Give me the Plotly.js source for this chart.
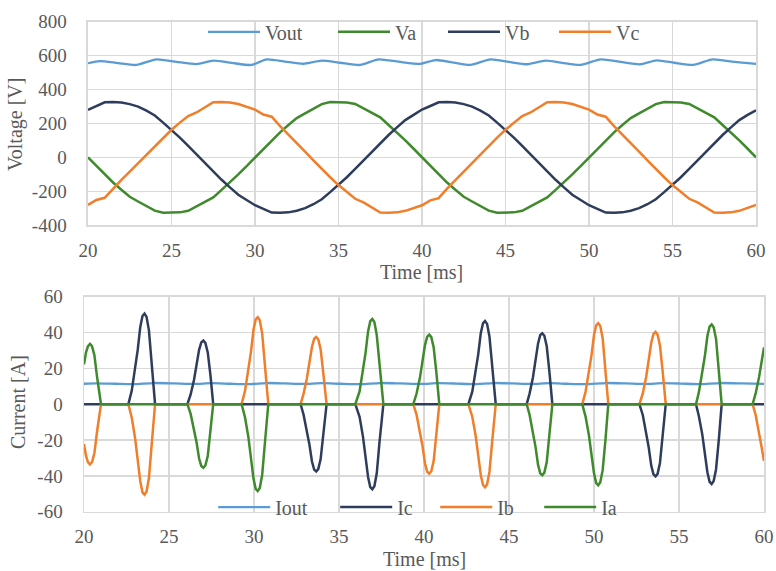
<!DOCTYPE html>
<html>
<head>
<meta charset="utf-8">
<script src="https://cdn.plot.ly/plotly-3.0.1.min.js"></script>
<style>html,body{margin:0;padding:0;background:#fff}#chart{width:776px;height:571px}</style>
</head>
<body>
<div id="chart"></div>
<script>
// ---------- Voltage panel (time in ms) ----------
var tV = [20,20.5,21,21.5,22,22.5,23,23.5,24,24.5,25,25.5,26,26.5,27,27.5,28,28.5,29,29.5,
  30,30.5,31,31.5,32,32.5,33,33.5,34,34.5,35,35.5,36,36.5,37,37.5,38,38.5,39,39.5,
  40,40.5,41,41.5,42,42.5,43,43.5,44,44.5,45,45.5,46,46.5,47,47.5,48,48.5,49,49.5,
  50,50.5,51,51.5,52,52.5,53,53.5,54,54.5,55,55.5,56,56.5,57,57.5,58,58.5,59,59.5,60];
var Va = [0,-51,-100,-148,-191,-232,-260,-288,-314,-326,-326,-324,-315,-290,-263,-236,-191,-148,-100,-51,
  0,51,100,148,191,232,260,288,314,326,326,324,315,290,263,236,191,148,100,51,
  0,-51,-100,-148,-191,-232,-260,-288,-314,-326,-326,-324,-315,-290,-263,-236,-191,-148,-100,-51,
  0,51,100,148,191,232,260,288,314,326,326,324,315,290,263,236,191,148,100,51,0];
var Vb = [280,303,325,326,324,314,299,276,247,205,163,117,68,17,-34,-84,-132,-177,-220,-251,
  -282,-303,-325,-326,-324,-314,-299,-276,-247,-205,-163,-117,-68,-17,34,84,132,177,220,251,
  282,303,325,326,324,314,299,276,247,205,163,117,68,17,-34,-84,-132,-177,-220,-251,
  -282,-303,-325,-326,-324,-314,-299,-276,-247,-205,-163,-117,-68,-17,34,84,132,177,220,251,278];
var Vc = [-280,-251,-238,-184,-132,-84,-34,17,68,117,163,205,244,265,297,325,326,324,315,297,
  282,253,240,184,132,84,34,-17,-68,-117,-163,-205,-244,-265,-297,-325,-326,-324,-315,-297,
  -282,-253,-240,-184,-132,-84,-34,17,68,117,163,205,244,265,297,325,326,324,315,297,
  282,253,240,184,132,84,34,-17,-68,-117,-163,-205,-244,-265,-297,-325,-326,-324,-315,-297,-280];
var tRipple = [20,20.7,21.8,22.9,24.1,25.3,26.5,27.5,28.6,29.8,30.7,31.8,32.9,34.0,35.1,36.3,37.4,38.6,39.9,
  40.8,41.9,42.9,44.1,45.2,46.3,47.4,48.4,49.5,50.7,51.9,53.05,54.05,55.1,56.25,57.4,58.7,60];
var Vout = [555,568,556,545,578,563,550,570,557,545,578,565,552,570,558,545,578,564,551,
  574,559,545,578,563,549,570,557,545,578,563,549,572,558,545,578,563,551];

// ---------- Current panel ----------
var Iout = [11.4,11.6,11.4,11.2,11.8,11.6,11.3,11.7,11.4,11.2,11.8,11.6,11.3,11.7,11.4,11.2,11.8,11.6,11.3,
  11.7,11.5,11.2,11.8,11.6,11.3,11.7,11.4,11.2,11.8,11.6,11.3,11.7,11.5,11.2,11.8,11.6,11.3];
var tI = [20.00,20.12,20.23,20.35,20.47,20.61,20.77,21.00,
  22.61,22.81,23.01,23.16,23.31,23.44,23.56,23.68,23.82,23.98,24.18,
  26.08,26.27,26.47,26.62,26.77,26.90,27.02,27.14,27.28,27.44,27.60,
  29.27,29.47,29.67,29.82,29.97,30.10,30.22,30.34,30.48,30.64,30.84,
  32.74,32.91,33.11,33.26,33.41,33.54,33.66,33.78,33.92,34.08,34.27,
  35.96,36.21,36.41,36.56,36.71,36.84,36.96,37.08,37.22,37.38,37.61,
  39.37,39.56,39.76,39.91,40.06,40.19,40.31,40.43,40.57,40.73,40.90,
  42.61,42.84,43.04,43.19,43.34,43.47,43.59,43.71,43.85,44.01,44.22,
  46.04,46.21,46.41,46.56,46.71,46.84,46.96,47.08,47.22,47.38,47.55,
  49.31,49.50,49.70,49.85,50.00,50.13,50.25,50.37,50.51,50.67,50.84,
  52.67,52.87,53.07,53.22,53.37,53.50,53.62,53.74,53.88,54.04,54.22,
  56.00,56.17,56.37,56.52,56.67,56.80,56.92,57.04,57.18,57.34,57.51,
  59.33,59.51,59.71,59.86,60.00];
var Ia = [22.2,28.9,32.3,33.6,32.4,27.4,15.1,0,
  0,0,0,0,0,0,0,0,0,0,0,
  0,-5.3,-13.5,-21.3,-30.3,-34.5,-35.5,-34.2,-28.9,-16.0,0,
  0,-7.3,-18.4,-29.1,-41.5,-47.3,-48.5,-46.8,-39.5,-21.8,0,
  0,0,0,0,0,0,0,0,0,0,0,
  0,7.1,18.1,28.5,40.6,46.3,47.5,45.8,38.7,21.4,0,
  0,5.8,14.7,23.3,33.1,37.7,38.8,37.4,31.6,17.5,0,
  0,0,0,0,0,0,0,0,0,0,0,
  0,-5.9,-15.0,-23.8,-33.9,-38.6,-39.6,-38.2,-32.3,-17.8,0,
  0,-6.8,-17.2,-27.1,-38.6,-44.0,-45.2,-43.6,-36.8,-20.3,0,
  0,0,0,0,0,0,0,0,0,0,0,
  0,6.7,16.9,26.7,38.0,43.3,44.5,42.9,36.3,20.0,0,
  0,6.0,15.2,24.0,31.7];
var Ib = [-22.2,-28.9,-32.3,-33.6,-32.4,-27.4,-15.1,0,
  0,-7.6,-19.2,-30.3,-43.1,-49.2,-50.5,-48.7,-41.2,-22.7,0,
  0,0,0,0,0,0,0,0,0,0,0,
  0,7.3,18.4,29.1,41.5,47.3,48.5,46.8,39.5,21.8,0,
  0,5.6,14.3,22.5,32.0,36.5,37.5,36.2,30.6,16.9,0,
  0,0,0,0,0,0,0,0,0,0,0,
  0,-5.8,-14.7,-23.3,-33.1,-37.7,-38.8,-37.4,-31.6,-17.5,0,
  0,-7.0,-17.6,-27.8,-39.6,-45.1,-46.4,-44.8,-37.8,-20.9,0,
  0,0,0,0,0,0,0,0,0,0,0,
  0,6.8,17.2,27.1,38.6,44.0,45.2,43.6,36.8,20.3,0,
  0,6.0,15.3,24.2,34.4,39.2,40.3,38.9,32.8,18.1,0,
  0,0,0,0,0,0,0,0,0,0,0,
  0,-6.0,-15.2,-24.0,-31.7];
var Ic = [0,0,0,0,0,0,0,0,
  0,7.6,19.2,30.3,43.1,49.2,50.5,48.7,41.2,22.7,0,
  0,5.3,13.5,21.3,30.3,34.5,35.5,34.2,28.9,16.0,0,
  0,0,0,0,0,0,0,0,0,0,0,
  0,-5.6,-14.3,-22.5,-32.0,-36.5,-37.5,-36.2,-30.6,-16.9,0,
  0,-7.1,-18.1,-28.5,-40.6,-46.3,-47.5,-45.8,-38.7,-21.4,0,
  0,0,0,0,0,0,0,0,0,0,0,
  0,7.0,17.6,27.8,39.6,45.1,46.4,44.8,37.8,20.9,0,
  0,5.9,15.0,23.8,33.9,38.6,39.6,38.2,32.3,17.8,0,
  0,0,0,0,0,0,0,0,0,0,0,
  0,-6.0,-15.3,-24.2,-34.4,-39.2,-40.3,-38.9,-32.8,-18.1,0,
  0,-6.7,-16.9,-26.7,-38.0,-43.3,-44.5,-42.9,-36.3,-20.0,0,
  0,0,0,0,0];

// tick labels and axis titles
var xTicks = [20,25,30,35,40,45,50,55,60];
var xTickText = ['20','25','30','35','40','45','50','55','60'];
var vTicks = [-400,-200,0,200,400,600,800];
var vTickText = ['-400','-200','0','200','400','600','800'];
var iTicks = [-60,-40,-20,0,20,40,60];
var iTickText = ['-60','-40','-20','0','20','40','60'];
var timeTitle = 'Time [ms]', voltTitle = 'Voltage [V]', currTitle = 'Current [A]';

var C_BLUE = '#5B9BD5', C_GREEN = '#3F8A2C', C_NAVY = '#2F3D5C', C_ORANGE = '#F07E2A';
var FONT = 'Liberation Serif, Times New Roman, serif';
var GRAY = '#595959', GRID = '#D9D9D9';
var titleFont = {family: FONT, size: 20, color: GRAY};

var traces = [
  {x: tRipple, y: Vout, name: 'Vout', mode: 'lines', line: {color: C_BLUE, width: 2.3, shape: 'spline', smoothing: 0.6}, xaxis: 'x', yaxis: 'y', legend: 'legend', legendwidth: 63},
  {x: tV, y: Va, name: 'Va', mode: 'lines', line: {color: C_GREEN, width: 2.5}, xaxis: 'x', yaxis: 'y', legend: 'legend', legendwidth: 43},
  {x: tV, y: Vb, name: 'Vb', mode: 'lines', line: {color: C_NAVY, width: 2.5}, xaxis: 'x', yaxis: 'y', legend: 'legend', legendwidth: 44},
  {x: tV, y: Vc, name: 'Vc', mode: 'lines', line: {color: C_ORANGE, width: 2.5}, xaxis: 'x', yaxis: 'y', legend: 'legend', legendwidth: 30},
  {x: tRipple, y: Iout, name: 'Iout', mode: 'lines', line: {color: C_BLUE, width: 2.3, shape: 'spline', smoothing: 0.6}, xaxis: 'x2', yaxis: 'y2', legend: 'legend2', legendwidth: 55},
  {x: tI, y: Ic, name: 'Ic', mode: 'lines', line: {color: C_NAVY, width: 2.5}, xaxis: 'x2', yaxis: 'y2', legend: 'legend2', legendwidth: 33},
  {x: tI, y: Ib, name: 'Ib', mode: 'lines', line: {color: C_ORANGE, width: 2.5}, xaxis: 'x2', yaxis: 'y2', legend: 'legend2', legendwidth: 37},
  {x: tI, y: Ia, name: 'Ia', mode: 'lines', line: {color: C_GREEN, width: 2.5}, xaxis: 'x2', yaxis: 'y2', legend: 'legend2', legendwidth: 20}
];

function axisBase(extra) {
  var a = {showgrid: true, gridcolor: GRID, gridwidth: 1.5, showline: true, linecolor: GRID, linewidth: 1.5, mirror: true,
    zeroline: false, ticks: '', tickfont: {family: FONT, size: 19, color: GRAY}, automargin: false, fixedrange: true};
  for (var k in extra) a[k] = extra[k];
  return a;
}

var layout = {
  width: 776, height: 571,
  margin: {l: 84, r: 12, t: 12, b: 59},
  paper_bgcolor: '#fff', plot_bgcolor: '#fff',
  font: {family: FONT, color: GRAY},
  showlegend: true,
  xaxis: axisBase({domain: [0.00588, 0.98824], range: [20, 60], anchor: 'y', tickvals: xTicks, ticktext: xTickText, ticklabelstandoff: 7}),
  yaxis: axisBase({domain: [0.584, 0.9986], range: [-400, 800], anchor: 'x', tickvals: vTicks, ticktext: vTickText, ticklabelstandoff: 16}),
  xaxis2: axisBase({domain: [0, 1], range: [20, 60], anchor: 'y2', tickvals: xTicks, ticktext: xTickText, ticklabelstandoff: 7}),
  yaxis2: axisBase({domain: [0.0006, 0.4386], range: [-60, 60], anchor: 'x2', tickvals: iTicks, ticktext: iTickText, ticklabelstandoff: 16}),
  annotations: [
    {text: timeTitle, xref: 'paper', yref: 'paper', x: 0.497, y: 0.489, xanchor: 'center', yanchor: 'middle', showarrow: false, font: titleFont},
    {text: timeTitle, xref: 'paper', yref: 'paper', x: 0.5, y: -0.095, xanchor: 'center', yanchor: 'middle', showarrow: false, font: titleFont},
    {text: voltTitle, xref: 'paper', yref: 'paper', x: -0.1015, y: 0.79, xanchor: 'center', yanchor: 'middle', textangle: -90, showarrow: false, font: titleFont},
    {text: currTitle, xref: 'paper', yref: 'paper', x: -0.097, y: 0.224, xanchor: 'center', yanchor: 'middle', textangle: -90, showarrow: false, font: titleFont}
  ],
  legend: {orientation: 'h', x: 0.175, y: 0.978, xanchor: 'left', yanchor: 'middle', bgcolor: 'rgba(0,0,0,0)',
    font: {family: FONT, size: 20, color: GRAY}, itemwidth: 52, traceorder: 'normal'},
  legend2: {orientation: 'h', x: 0.19, y: 0.01, xanchor: 'left', yanchor: 'middle', bgcolor: 'rgba(0,0,0,0)',
    font: {family: FONT, size: 20, color: GRAY}, itemwidth: 52, traceorder: 'normal'}
};

Plotly.newPlot('chart', traces, layout, {displayModeBar: false, staticPlot: true});
</script>
</body>
</html>
